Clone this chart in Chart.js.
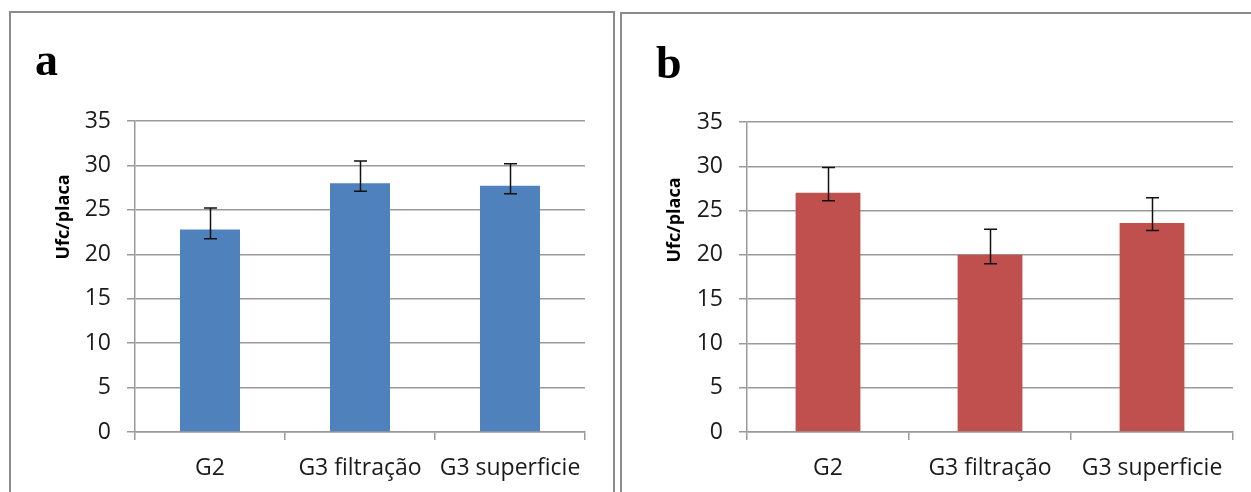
<!DOCTYPE html>
<html>
<head>
<meta charset="utf-8">
<script src="https://cdn.jsdelivr.net/npm/chart.js@4.4.1/dist/chart.umd.min.js"></script>
<style>
  html,body{margin:0;padding:0;background:#fff;}
  body{width:1251px;height:492px;overflow:hidden;position:relative;}
  .panel{position:absolute;box-sizing:border-box;border:2px solid #8c8c8c;}
  .wrap{position:absolute;top:0;}
  .letter{position:absolute;font-family:'Liberation Serif','Times New Roman',serif;font-weight:bold;font-size:46px;line-height:46px;color:#000;}
  .ytitle{position:absolute;font-family:'Open Sans',sans-serif;font-weight:bold;font-size:18px;line-height:18px;color:#000;white-space:nowrap;transform:translate(-50%,-50%) rotate(-90deg);}
</style>
</head>
<body>
<div class="panel" style="left:9px;top:11px;width:606px;height:600px;"></div>
<div class="panel" style="left:620px;top:12px;width:700px;height:600px;"></div>
<div class="wrap" style="left:0;"><canvas id="ca" width="618" height="492"></canvas></div>
<div class="wrap" style="left:618px;"><canvas id="cb" width="633" height="492"></canvas></div>
<div class="letter" style="left:35px;top:37px;">a</div>
<div class="letter" style="left:656px;top:40px;">b</div>
<div class="ytitle" style="left:62px;top:217px;">Ufc/placa</div>
<div class="ytitle" style="left:673px;top:220px;">Ufc/placa</div>
<script>
// ---- data ----
const categories = ['G2', 'G3 filtração', 'G3 superficie'];
const meanA  = [22.8, 28.0, 27.7];
const upperA = [25.2, 30.5, 30.2];
const lowerA = [21.75, 27.1, 26.8];
const meanB  = [27.0, 20.0, 23.6];
const upperB = [29.85, 22.9, 26.45];
const lowerB = [26.1, 19.0, 22.75];
const yMin = 0, yMax = 35, yStep = 5;

Chart.defaults.font.family = "'Open Sans', sans-serif";
Chart.defaults.color = '#1a1a1a';

const errorBars = {
  id: 'errorBars',
  afterDatasetsDraw(chart, args, opts) {
    const ctx = chart.ctx;
    const y = chart.scales.y;
    const meta = chart.getDatasetMeta(0);
    ctx.save();
    ctx.strokeStyle = opts.color;
    ctx.lineWidth = opts.width;
    meta.data.forEach((bar, i) => {
      const px = Math.round(bar.x) + 0.5;
      const yt = y.getPixelForValue(opts.upper[i]);
      const yb = y.getPixelForValue(opts.lower[i]);
      ctx.beginPath();
      ctx.moveTo(px, yt); ctx.lineTo(px, yb);
      ctx.moveTo(px - opts.cap, yt); ctx.lineTo(px + opts.cap, yt);
      ctx.moveTo(px - opts.cap, yb); ctx.lineTo(px + opts.cap, yb);
      ctx.stroke();
    });
    ctx.restore();
  }
};

function makeChart(id, values, upper, lower, color, areaLeft, areaRight, areaTop, width) {
  return new Chart(document.getElementById(id), {
    type: 'bar',
    data: {
      labels: categories,
      datasets: [{
        data: values,
        backgroundColor: color,
        borderWidth: 0,
        barPercentage: 0.4,
        categoryPercentage: 1.0
      }]
    },
    options: {
      responsive: false,
      animation: false,
      devicePixelRatio: 1,
      layout: { padding: { left: 0, top: areaTop, right: width - areaRight, bottom: 0 } },
      plugins: {
        legend: { display: false },
        tooltip: { enabled: false },
        errorBars: { upper: upper, lower: lower, color: '#111', width: 1.5, cap: 6.5 }
      },
      scales: {
        x: {
          afterFit: s => { s.height = 492 - 432; },
          grid: { drawOnChartArea: false, drawTicks: true, tickLength: 8, color: '#9a9a9a', lineWidth: 1.5 },
          border: { display: true, color: '#9a9a9a', width: 1.5 },
          ticks: { font: { size: 23 }, color: '#1a1a1a', padding: 15, maxRotation: 0, autoSkip: false }
        },
        y: {
          min: yMin, max: yMax,
          afterFit: s => { s.width = areaLeft; },
          grid: { drawTicks: true, tickLength: 8, color: '#9a9a9a', lineWidth: 1.5 },
          border: { display: true, color: '#9a9a9a', width: 1.5 },
          ticks: { stepSize: yStep, font: { size: 23 }, color: '#1a1a1a', padding: 16 }
        }
      }
    },
    plugins: [errorBars]
  });
}

makeChart('ca', meanA, upperA, lowerA, '#4F81BD', 135, 585, 121, 618);
makeChart('cb', meanB, upperB, lowerB, '#C0504D', 129, 615, 122, 633);
</script>
</body>
</html>
